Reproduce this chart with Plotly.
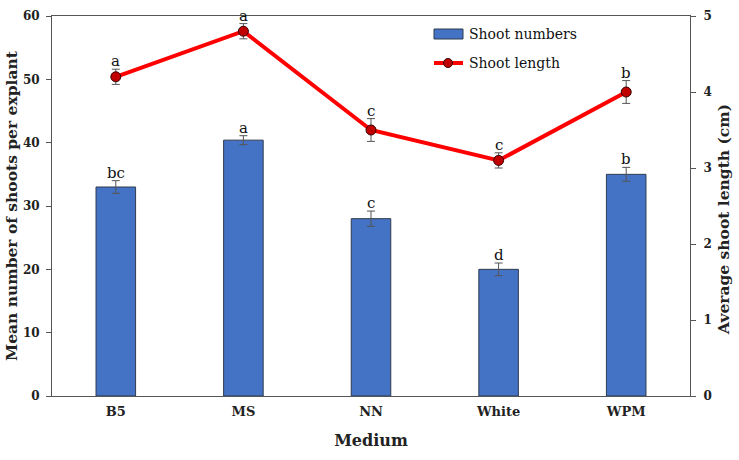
import plotly.graph_objects as go

categories = ["B5", "MS", "NN", "White", "WPM"]
shoot_numbers = [33.0, 40.4, 28.0, 20.0, 35.0]
shoot_numbers_err = [1.0, 0.7, 1.2, 1.0, 1.1]
shoot_numbers_letters = ["bc", "a", "c", "d", "b"]
shoot_length = [4.2, 4.8, 3.5, 3.1, 4.0]
shoot_length_err = [0.1, 0.1, 0.15, 0.1, 0.15]
shoot_length_letters = ["a", "a", "c", "c", "b"]
legend_labels = ["Shoot numbers", "Shoot length"]

serif = "DejaVu Serif"
W, H = 739, 460
L, R, T, B = 52, 49, 16, 64
pw, ph = W - L - R, H - T - B

def px(x):
    return (x - L) / pw

def py(y):
    return 1 - (y - T) / ph

fig = go.Figure()
fig.add_trace(go.Bar(
    x=categories, y=shoot_numbers, name=legend_labels[0],
    marker=dict(color="#4472C4", line=dict(color="#2F3B4F", width=1)),
    error_y=dict(type="data", array=shoot_numbers_err, color="#555555", thickness=1, width=4),
    yaxis="y", showlegend=False, hoverinfo="skip",
))
fig.add_trace(go.Scatter(
    x=categories, y=shoot_length, name=legend_labels[1], mode="lines+markers",
    line=dict(color="#FF0000", width=4),
    marker=dict(color="#C00000", size=10, line=dict(color="#3A0000", width=1)),
    error_y=dict(type="data", array=shoot_length_err, color="#555555", thickness=1, width=4),
    yaxis="y2", showlegend=False, hoverinfo="skip",
))

annotations = []
for c, v, e, t in zip(categories, shoot_numbers, shoot_numbers_err, shoot_numbers_letters):
    annotations.append(dict(x=c, y=v + e, yref="y", xref="x", text=t, showarrow=False,
                            yanchor="bottom", yshift=-3, font=dict(family=serif, size=15, color="#111")))
for c, v, e, t in zip(categories, shoot_length, shoot_length_err, shoot_length_letters):
    annotations.append(dict(x=c, y=v + e, yref="y2", xref="x", text=t, showarrow=False,
                            yanchor="bottom", yshift=-3, font=dict(family=serif, size=15, color="#111")))

# y-axis titles
annotations.append(dict(x=px(11), y=py(206), xref="paper", yref="paper", textangle=-90,
                        text="<b>Mean number of shoots per explant</b>", showarrow=False,
                        xanchor="center", yanchor="middle",
                        font=dict(family=serif, size=15.5, color="#222")))
annotations.append(dict(x=px(723), y=py(220), xref="paper", yref="paper", textangle=-90,
                        text="<b>Average shoot length (cm)</b>", showarrow=False,
                        xanchor="center", yanchor="middle",
                        font=dict(family=serif, size=15.5, color="#222")))

# manual legend
shapes = [
    dict(type="rect", xref="paper", yref="paper", x0=px(434), x1=px(463), y0=py(39), y1=py(29),
         fillcolor="#4472C4", line=dict(color="#2F3B4F", width=1)),
    dict(type="line", xref="paper", yref="paper", x0=px(434), x1=px(463), y0=py(63), y1=py(63),
         line=dict(color="#FF0000", width=4)),
    dict(type="circle", xref="paper", yref="paper", x0=px(443.5), x1=px(452.5), y0=py(67.5), y1=py(58.5),
         fillcolor="#C00000", line=dict(color="#3A0000", width=1)),
]
annotations.append(dict(x=px(467), y=py(34), xref="paper", yref="paper", text=legend_labels[0],
                        showarrow=False, xanchor="left", yanchor="middle",
                        font=dict(family=serif, size=14, color="#111")))
annotations.append(dict(x=px(467), y=py(63), xref="paper", yref="paper", text=legend_labels[1],
                        showarrow=False, xanchor="left", yanchor="middle",
                        font=dict(family=serif, size=14, color="#111")))

fig.update_layout(
    width=W, height=H,
    margin=dict(l=L, r=R, t=T, b=B, autoexpand=False),
    plot_bgcolor="white", paper_bgcolor="white",
    bargap=0.69,
    showlegend=False,
    hovermode=False,
    xaxis=dict(title=dict(text="<b>Medium</b>", font=dict(family=serif, size=16, color="#222"), standoff=17),
               automargin=False, ticklabelstandoff=3,
               showline=True, linecolor="#555", linewidth=1, mirror=True, ticks="",
               tickfont=dict(family=serif, size=13, color="#222"),
               tickvals=categories, ticktext=["<b>%s</b>" % c for c in categories]),
    yaxis=dict(automargin=False, ticklabelstandoff=4,
               range=[0, 60], showgrid=False, zeroline=False,
               showline=True, linecolor="#555", linewidth=1, ticks="outside", ticklen=5, tickcolor="#555",
               tickfont=dict(family=serif, size=12, color="#222"),
               tickvals=[0, 10, 20, 30, 40, 50, 60], ticktext=["<b>%d</b>" % v for v in range(0, 70, 10)]),
    yaxis2=dict(automargin=False, ticklabelstandoff=5,
                range=[0, 5], overlaying="y", side="right", showgrid=False, zeroline=False,
                showline=True, linecolor="#555", linewidth=1, ticks="outside", ticklen=5, tickcolor="#555",
                tickfont=dict(family=serif, size=12, color="#222"),
                tickvals=[0, 1, 2, 3, 4, 5], ticktext=["<b>%d</b>" % v for v in range(6)]),
    annotations=annotations,
    shapes=shapes,
)

fig.write_html("out.html", config={"displayModeBar": False},
               post_script="document.body.style.margin='0';document.body.style.overflow='hidden';")
